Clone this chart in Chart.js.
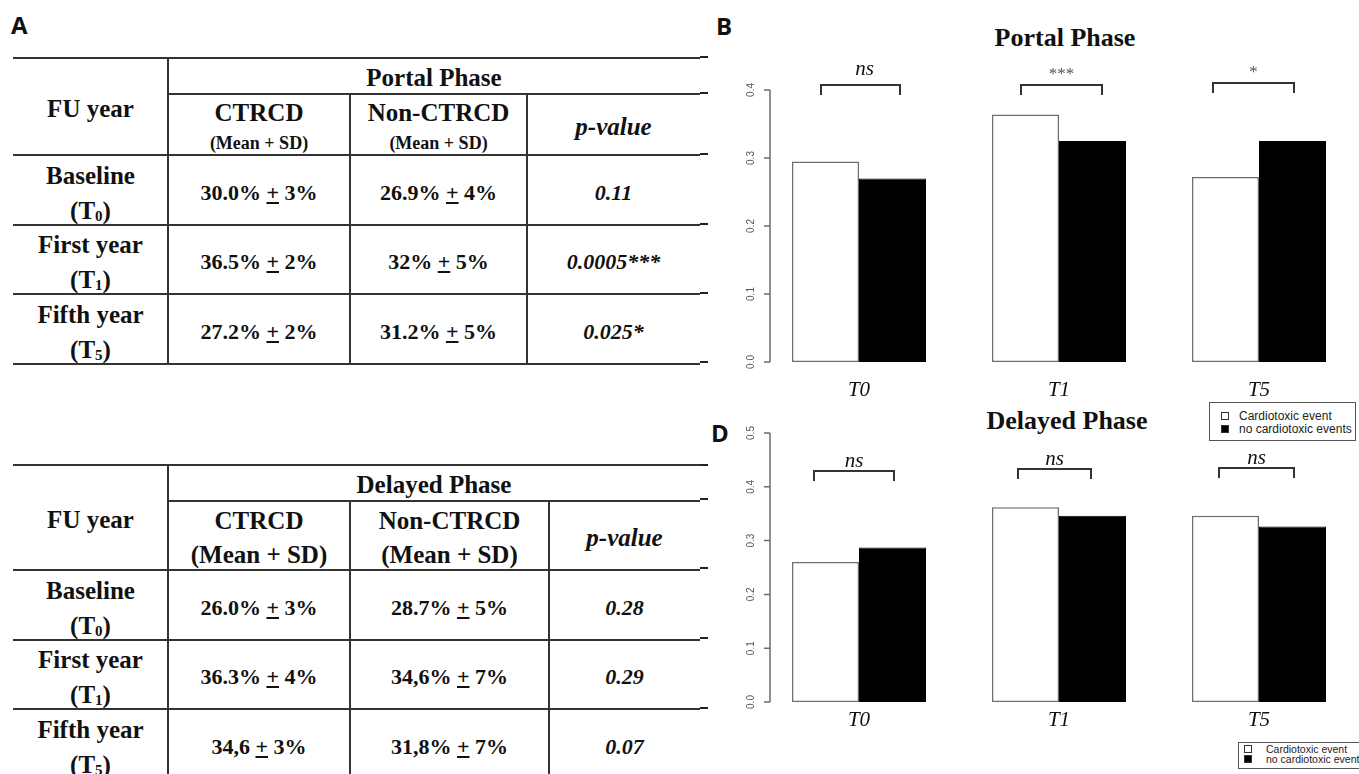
<!DOCTYPE html>
<html>
<head>
<meta charset="utf-8">
<script src="https://cdn.jsdelivr.net/npm/chart.js@4.4.1/dist/chart.umd.min.js"></script>
<style>
  html, body { margin: 0; padding: 0; background: #fff; }
  body { width: 1359px; height: 774px; position: relative; overflow: hidden; font-family: "Liberation Serif", serif; color: #111; }
  .abs { position: absolute; }
  .panel { font-family: "Open Sans", sans-serif; font-weight: 700; font-size: 24px; line-height: 1; }
  .hl { position: absolute; height: 2px; background: #333; }
  .vl { position: absolute; width: 2px; background: #333; }
  .cell { position: absolute; display: flex; flex-direction: column; align-items: center; justify-content: center; box-sizing: border-box; text-align: center; font-weight: 700; font-size: 25px; }
  .cell .sm { font-size: 18px; }
  .cell .val { font-size: 22px; }
  .cell .pv { font-size: 22px; font-style: italic; }
  .cell sub { font-size: 15px; vertical-align: -2px; line-height: 0; }
  .ptitle { position: absolute; transform: translate(-50%, -50%); font-weight: 700; font-size: 26px; line-height: 1; white-space: nowrap; }
  .dash { position: absolute; left: 700px; width: 8px; height: 2px; background: #222; z-index: 5; }
  .legend { position: absolute; border: 1.5px solid #555; background: #fff; font-family: "Liberation Sans", sans-serif; color: #222; box-sizing: border-box; overflow: hidden; white-space: nowrap; z-index: 4; }
  .legend .it { position: absolute; display: flex; align-items: center; }
  .legend .sq { display: inline-block; box-sizing: border-box; border: 1px solid #333; }
  canvas { position: absolute; }
</style>
</head>
<body>
<div class="abs panel" style="left:11px; top:13px;">A</div>
<div class="abs panel" style="left:716px; top:14px;">B</div>
<div class="abs panel" style="left:711px; top:421px;">D</div>

<div id="tbl1"></div>
<div id="tbl2"></div>

<div class="ptitle" style="left:1065px; top:38px;">Portal Phase</div>
<div class="ptitle" style="left:1067px; top:421px;">Delayed Phase</div>

<canvas id="portalChart" width="659" height="400" style="left:700px; top:0px;"></canvas>
<canvas id="delayedChart" width="659" height="374" style="left:700px; top:400px;"></canvas>

<div id="legend1" class="legend" style="left:1209px; top:402px; width:147px; height:39px; font-size:12px;"></div>
<div id="legend2" class="legend" style="left:1238px; top:742px; width:140px; height:27px; font-size:10.5px;"></div>

<div id="dashes"></div>

<script>
// ── Data ──
const groups = ['T0', 'T1', 'T5'];
const seriesNames = ['Cardiotoxic event', 'no cardiotoxic events'];

const portalCardio   = [0.295, 0.364, 0.272];
const portalNoCardio = [0.270, 0.325, 0.325];
const delayedCardio   = [0.260, 0.362, 0.346];
const delayedNoCardio = [0.287, 0.346, 0.326];

const portalTicks  = [0, 0.1, 0.2, 0.3, 0.4];
const delayedTicks = [0, 0.1, 0.2, 0.3, 0.4, 0.5];

const portalSig  = ['ns', '***', '*'];
const delayedSig = ['ns', 'ns', 'ns'];
const portalBracketAt  = [0.407, 0.407, 0.410];
const delayedBracketAt = [0.429, 0.433, 0.435];

// table content
const fuYears   = ['Baseline', 'First year', 'Fifth year'];
const fuSubs    = ['0', '1', '5'];
const portalCtrcd    = ['30.0%', '36.5%', '27.2%'];
const portalCtrcdSd  = ['3%', '2%', '2%'];
const portalNon      = ['26.9%', '32%', '31.2%'];
const portalNonSd    = ['4%', '5%', '5%'];
const portalP        = ['0.11', '0.0005***', '0.025*'];
const delayedCtrcd   = ['26.0%', '36.3%', '34,6'];
const delayedCtrcdSd = ['3%', '4%', '3%'];
const delayedNon     = ['28.7%', '34,6%', '31,8%'];
const delayedNonSd   = ['5%', '7%', '7%'];
const delayedP       = ['0.28', '0.29', '0.07'];

// ── Tables ──
function buildTable(el, phase, xs, ys, bigMeanSd, ctrcd, ctrcdSd, non, nonSd, pv) {
    let html = '';
    const L = xs[0], R = xs[xs.length - 1];
    const hline = (y, x0, x1) => `<div class="hl" style="left:${x0}px;top:${y - 1}px;width:${x1 - x0}px;"></div>`;
    const vline = (x, y0, y1) => `<div class="vl" style="left:${x - 1}px;top:${y0 - 1}px;height:${y1 - y0 + 2}px;"></div>`;
    const cell = (x0, x1, y0, y1, inner, pad) => `<div class="cell" style="left:${x0}px;top:${y0}px;width:${x1 - x0}px;height:${y1 - y0}px;padding-top:${pad}px;">${inner}</div>`;

    html += hline(ys[0], L, R);
    html += hline(ys[1], xs[1], R);
    for (let i = 2; i < ys.length; i++) html += hline(ys[i], L, R);
    html += vline(xs[1], ys[0], ys[5]);
    html += vline(xs[2], ys[1], ys[5]);
    html += vline(xs[3], ys[1], ys[5]);

    const ms = bigMeanSd ? '<div style="line-height:34px;">(Mean + SD)</div>' : '<div class="sm" style="line-height:28px;">(Mean + SD)</div>';
    const lh = bigMeanSd ? 34 : 32;
    html += cell(L, xs[1], ys[0], ys[2], 'FU year', 5);
    html += cell(xs[1], R, ys[0], ys[1], phase, 3);
    html += cell(xs[1], xs[2], ys[1], ys[2], `<div style="line-height:${lh}px;">CTRCD</div>${ms}`, 5);
    html += cell(xs[2], xs[3], ys[1], ys[2], `<div style="line-height:${lh}px;">Non-CTRCD</div>${ms}`, 5);
    html += cell(xs[3], R, ys[1], ys[2], '<i>p-value</i>', 5);

    fuYears.forEach((name, i) => {
        const y0 = ys[i + 2], y1 = ys[i + 3];
        html += cell(L, xs[1], y0, y1, `<div style="line-height:35px;">${name}</div><div style="line-height:35px;">(T<sub>${fuSubs[i]}</sub>)</div>`, 5);
        html += cell(xs[1], xs[2], y0, y1, `<span class="val">${ctrcd[i]} <u>+</u> ${ctrcdSd[i]}</span>`, 5);
        html += cell(xs[2], xs[3], y0, y1, `<span class="val">${non[i]} <u>+</u> ${nonSd[i]}</span>`, 5);
        html += cell(xs[3], R, y0, y1, `<span class="pv">${pv[i]}</span>`, 5);
    });
    el.innerHTML = html;
}

buildTable(document.getElementById('tbl1'), 'Portal Phase',
    [13, 168, 350, 527, 700], [58, 94, 155, 225, 294, 364], false,
    portalCtrcd, portalCtrcdSd, portalNon, portalNonSd, portalP);
buildTable(document.getElementById('tbl2'), 'Delayed Phase',
    [13, 168, 350, 549, 700], [465, 501, 570, 640, 709, 779], true,
    delayedCtrcd, delayedCtrcdSd, delayedNon, delayedNonSd, delayedP);

// ── Legends ──
function buildLegend(el, sq, x0, gapX, rows, h) {
    el.innerHTML = seriesNames.map((n, i) =>
        `<div class="it" style="left:${x0}px;top:${rows[i]}px;height:${h}px;"><span class="sq" style="width:${sq}px;height:${sq}px;margin-right:${gapX}px;background:${i ? '#000' : '#fff'};"></span>${n}</div>`
    ).join('');
}
buildLegend(document.getElementById('legend1'), 8, 11, 10, [6, 19], 14);
buildLegend(document.getElementById('legend2'), 8, 5, 14, [0, 10], 11);

// ── stray axis ticks at the left edge of the right panels ──
document.getElementById('dashes').innerHTML = [57, 93, 154, 224, 293, 362, 465, 499, 568, 638, 708]
    .map(y => `<div class="dash" style="top:${y - 1}px;"></div>`).join('');

// ── R style axis + significance brackets ──
function rPlot(ticks, sig, at, spans, opt) {
    return {
        id: 'rPlot',
        afterDraw(chart) {
            const { ctx, chartArea, scales: { x, y } } = chart;
            const ax = chartArea.left + 11;
            ctx.save();
            ctx.strokeStyle = '#6b6b6b';
            ctx.lineWidth = 1.5;
            ctx.beginPath();
            ctx.moveTo(ax, y.getPixelForValue(ticks[0]));
            ctx.lineTo(ax, y.getPixelForValue(ticks[ticks.length - 1]));
            ticks.forEach(t => { const py = y.getPixelForValue(t); ctx.moveTo(ax - 6, py); ctx.lineTo(ax, py); });
            ctx.stroke();
            ctx.fillStyle = '#555';
            ctx.font = '10px "Liberation Sans"';
            ctx.textAlign = 'center';
            ctx.textBaseline = 'middle';
            ticks.forEach(t => {
                ctx.save();
                ctx.translate(ax - 19, y.getPixelForValue(t));
                ctx.rotate(-Math.PI / 2);
                ctx.fillText(t.toFixed(1), 0, 0);
                ctx.restore();
            });

            ctx.strokeStyle = '#333';
            ctx.lineWidth = 2;
            sig.forEach((s, i) => {
                const cx = x.getPixelForValue(i);
                const l = cx + spans[i][0], r = cx + spans[i][1];
                const top = Math.round(y.getPixelForValue(at[i]));
                ctx.beginPath();
                ctx.moveTo(l, top + 10); ctx.lineTo(l, top); ctx.lineTo(r, top); ctx.lineTo(r, top + 10);
                ctx.stroke();
                ctx.textBaseline = 'alphabetic';
                if (s === 'ns') {
                    ctx.fillStyle = '#111';
                    ctx.font = 'italic 21px "Liberation Serif"';
                    ctx.fillText(s, (l + r) / 2 + opt.nsShift, top - opt.nsGap);
                } else {
                    ctx.fillStyle = '#555';
                    ctx.font = '17px "Liberation Serif"';
                    ctx.fillText(s, (l + r) / 2, top - 6);
                }
            });
            ctx.restore();
        }
    };
}

function makeChart(id, cardio, noCardio, ticks, sig, at, spans, pad, axisH, tickPad, opt) {
    return new Chart(document.getElementById(id), {
        type: 'bar',
        data: {
            labels: groups,
            datasets: [
                { label: seriesNames[0], data: cardio, backgroundColor: '#fff', borderColor: '#6e6e6e', borderWidth: 1.5, borderSkipped: false },
                { label: seriesNames[1], data: noCardio, backgroundColor: '#000', borderColor: '#000', borderWidth: 1, borderSkipped: false }
            ]
        },
        options: {
            responsive: false, animation: false, devicePixelRatio: 1,
            categoryPercentage: 0.67, barPercentage: 1,
            layout: { padding: pad },
            plugins: { legend: { display: false }, tooltip: { enabled: false } },
            scales: {
                x: {
                    grid: { display: false, drawTicks: false }, border: { display: false },
                    ticks: { color: '#111', padding: tickPad, font: { family: 'Liberation Serif', style: 'italic', size: 21 } },
                    afterFit: s => { s.height = axisH; }
                },
                y: { display: false, min: ticks[0], max: ticks[ticks.length - 1] }
            }
        },
        plugins: [rPlot(ticks, sig, at, spans, opt)]
    });
}

makeChart('portalChart', portalCardio, portalNoCardio, portalTicks, portalSig, portalBracketAt,
    [[-38, 41], [-38, 43], [-46, 35]],
    { top: 90, left: 59, right: 0, bottom: 0 }, 38, 16, { nsGap: 10, nsShift: 4 });
makeChart('delayedChart', delayedCardio, delayedNoCardio, delayedTicks, delayedSig, delayedBracketAt,
    [[-45, 35], [-41, 32], [-40, 35]],
    { top: 33, left: 59, right: 0, bottom: 0 }, 72, 6, { nsGap: 4, nsShift: 0 });
</script>
</body>
</html>
